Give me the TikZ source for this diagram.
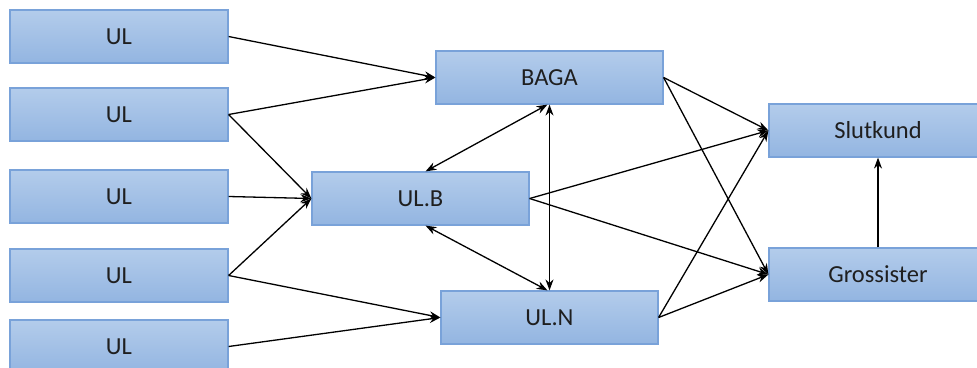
\documentclass[tikz,border=0pt]{standalone}
\usepackage{fontspec}
\setmainfont{Carlito}
\usetikzlibrary{arrows.meta}
\definecolor{boxtop}{HTML}{B3CCEB}
\definecolor{boxbot}{HTML}{93B5E1}
\definecolor{boxline}{HTML}{79A2D9}
\definecolor{txt}{HTML}{1F1F1F}
\begin{document}
\begin{tikzpicture}[x=1pt,y=-1pt,
 box/.style={draw=boxline, line width=1.2pt, top color=boxtop, bottom color=boxbot,
   minimum width=218pt, minimum height=53pt, inner sep=0pt,
   font=\fontsize{24.5}{26}\selectfont, text=txt},
 arr/.style={-{Stealth[length=11pt,width=8pt]}, line width=1.3pt},
 darr/.style={{Stealth[length=11pt,width=8pt]}-{Stealth[length=11pt,width=8pt]}, line width=1.3pt}]
\useasboundingbox (0,0) rectangle (977,367);
\clip (0,0) rectangle (977,367);
\node[box] (u1) at (119,36.5) {UL};
\node[box] (u2) at (119,114.5) {UL};
\node[box] (u3) at (119,196.5) {UL};
\node[box] (u4) at (119,275.5) {UL};
\node[box] (u5) at (119,346.5) {UL};
\node[box, minimum width=227pt] (baga) at (549.5,77.5) {BAGA};
\node[box, minimum width=217pt] (ulb) at (420.5,198.5) {UL.B};
\node[box, minimum width=217pt] (uln) at (549.5,317.5) {UL.N};
\node[box] (slut) at (878,130.5) {Slutkund};
\node[box] (gros) at (878,274.5) {Grossister};
\draw[arr] (u1.east) -- (baga.west);
\draw[arr] (u2.east) -- (baga.west);
\draw[arr] (u2.east) -- (ulb.west);
\draw[arr] (u3.east) -- (ulb.west);
\draw[arr] (u4.east) -- (ulb.west);
\draw[arr] (u4.east) -- (uln.west);
\draw[arr] (u5.east) -- (uln.west);
\draw[darr] ([xshift=-2pt]baga.south) -- ([xshift=5pt]ulb.north);
\draw[darr] (baga.south) -- (uln.north);
\draw[darr] ([xshift=5pt]ulb.south) -- ([xshift=-2pt]uln.north);
\draw[arr] (baga.east) -- (slut.west);
\draw[arr] (baga.east) -- (gros.west);
\draw[arr] (ulb.east) -- (slut.west);
\draw[arr] (ulb.east) -- (gros.west);
\draw[arr] (uln.east) -- (slut.west);
\draw[arr] (uln.east) -- (gros.west);
\draw[arr] (gros.north) -- (slut.south);
\end{tikzpicture}
\end{document}
